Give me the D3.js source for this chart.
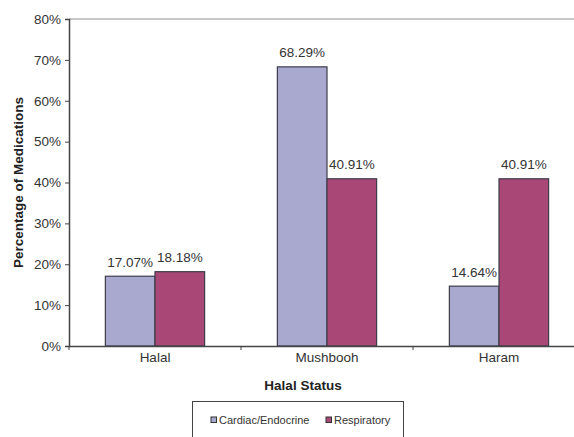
<!DOCTYPE html>
<html>
<head>
<meta charset="utf-8">
<script src="https://cdn.jsdelivr.net/npm/d3@7"></script>
<style>
  html, body { margin: 0; padding: 0; background: #fff; }
  svg { display: block; font-family: 'Liberation Sans', Arial, sans-serif; }
</style>
</head>
<body>
<div id="chart"></div>
<script>
const categories = ['Halal', 'Mushbooh', 'Haram']
const seriesNames = ['Cardiac/Endocrine', 'Respiratory']
const cardiac = [17.07, 68.29, 14.64]
const respiratory = [18.18, 40.91, 40.91]
const yTicks = [0, 10, 20, 30, 40, 50, 60, 70, 80]

const W = 574
const H = 437
const margin = { TOP: 19, RIGHT: -11, BOTTOM: 91, LEFT: 69 }
const colors = d3.scaleOrdinal().domain(seriesNames).range(['#a9a9cf', '#a94877'])

const rows = categories.map((c, i) => ({ cat: c, values: [cardiac[i], respiratory[i]] }))

const svg = d3.select('#chart')
  .append('svg')
  .attr('width', W)
  .attr('height', H)
  .attr('viewBox', `0 0 ${W} ${H}`)

const x0 = d3.scaleBand()
  .domain(categories)
  .range([margin.LEFT, W - margin.RIGHT])
  .paddingInner(0)
  .paddingOuter(0)

// two adjacent bars ~49.5px each in a 172px band
const groupW = x0.bandwidth() * 0.577
const x1 = d3.scaleBand().domain(seriesNames).range([0, groupW]).padding(0)

const y = d3.scaleLinear()
  .domain([0, 80])
  .range([H - margin.BOTTOM, margin.TOP])

// top border line at 80%
svg.append('line')
  .attr('x1', margin.LEFT).attr('x2', W)
  .attr('y1', y(80)).attr('y2', y(80))
  .attr('stroke', '#b5b5b5').attr('stroke-width', 1.5)

// bars
const groups = svg.append('g')
  .selectAll('g')
  .data(rows)
  .join('g')
  .attr('transform', d => `translate(${x0(d.cat) + (x0.bandwidth() - groupW) / 2}, 0)`)

groups.selectAll('rect')
  .data(d => seriesNames.map((k, j) => ({ key: k, value: d.values[j] })))
  .join('rect')
  .attr('x', d => x1(d.key))
  .attr('width', x1.bandwidth())
  .attr('y', d => y(d.value))
  .attr('height', d => y(0) - y(d.value))
  .attr('fill', d => colors(d.key))
  .attr('stroke', '#3c3c4a')
  .attr('stroke-width', 1.2)

groups.selectAll('text')
  .data(d => seriesNames.map((k, j) => ({ key: k, value: d.values[j] })))
  .join('text')
  .attr('x', d => x1(d.key) + x1.bandwidth() / 2)
  .attr('y', d => y(d.value) - 9.5)
  .attr('text-anchor', 'middle')
  .attr('font-size', 13.5)
  .attr('fill', '#333')
  .text(d => d.value.toFixed(2) + '%')

// y axis
const yAxis = svg.append('g')
  .attr('transform', `translate(${margin.LEFT}, 0)`)
  .call(d3.axisLeft(y).tickValues(yTicks).tickSize(4).tickPadding(4).tickFormat(d => d + '%'))
yAxis.select('.domain').attr('stroke', '#444').attr('stroke-width', 1.5)
yAxis.selectAll('.tick line').attr('stroke', '#444')
yAxis.selectAll('text').attr('font-size', 13.5).attr('fill', '#333').attr('font-family', null)

// x axis
const xAxis = svg.append('g')
  .attr('transform', `translate(0, ${y(0)})`)
  .call(d3.axisBottom(x0).tickSize(0).tickPadding(6.5))
xAxis.select('.domain').attr('stroke', '#444').attr('stroke-width', 1.5)
xAxis.selectAll('text').attr('font-size', 13.5).attr('fill', '#333').attr('font-family', null)

// category boundary ticks
svg.append('g')
  .selectAll('line')
  .data(categories)
  .join('line')
  .attr('x1', d => x0(d)).attr('x2', d => x0(d))
  .attr('y1', y(0)).attr('y2', y(0) + 4)
  .attr('stroke', '#444')

// axis titles
svg.append('text')
  .attr('x', 303)
  .attr('y', 390)
  .attr('text-anchor', 'middle')
  .attr('font-size', 13.5)
  .attr('font-weight', 'bold')
  .attr('fill', '#222')
  .text('Halal Status')

svg.append('text')
  .attr('transform', `translate(23, ${(y(0) + y(80)) / 2}) rotate(-90)`)
  .attr('text-anchor', 'middle')
  .attr('font-size', 13.5)
  .attr('font-weight', 'bold')
  .attr('fill', '#222')
  .text('Percentage of Medications')

// legend
svg.append('rect')
  .attr('x', 192.5).attr('y', 401.5)
  .attr('width', 211).attr('height', 50)
  .attr('fill', '#fff')
  .attr('stroke', '#444')

const legend = svg.append('g')
  .selectAll('g')
  .data(seriesNames)
  .join('g')
  .attr('transform', (d, i) => `translate(${[211, 326][i]}, 420)`)

legend.append('rect')
  .attr('x', 0).attr('y', -3)
  .attr('width', 5.5).attr('height', 5.5)
  .attr('fill', d => colors(d))
  .attr('stroke', '#333')
  .attr('stroke-width', 1)

legend.append('text')
  .attr('x', 8)
  .attr('y', 4)
  .attr('font-size', 11)
  .attr('fill', '#333')
  .text(d => d)
</script>
</body>
</html>
